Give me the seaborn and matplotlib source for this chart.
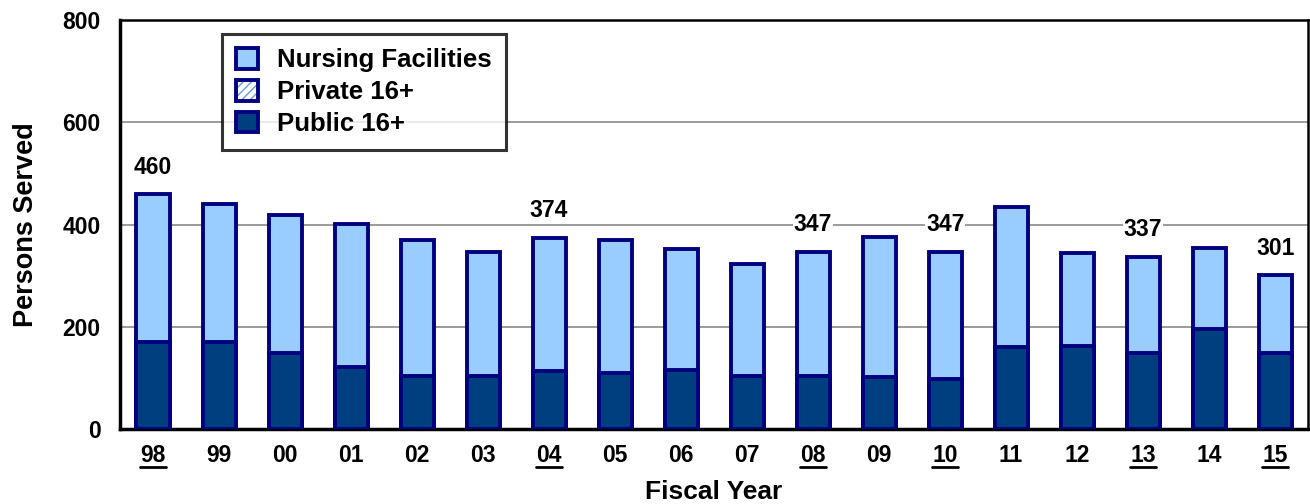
import pandas as pd
import numpy as np
import seaborn as sns
import matplotlib.pyplot as plt
from matplotlib.patches import Patch
from matplotlib.lines import Line2D

# fiscal years and persons served
years = ["98", "99", "00", "01", "02", "03", "04", "05", "06",
         "07", "08", "09", "10", "11", "12", "13", "14", "15"]
public = [170, 170, 148, 122, 104, 104, 114, 110, 115,
          104, 104, 102, 98, 161, 162, 149, 195, 149]
private = [0] * 18
nursing = [290, 270, 270, 279, 266, 243, 260, 260, 238,
           218, 243, 273, 249, 273, 183, 188, 160, 152]

# years that get a total label and an underlined tick
labelled = ["98", "04", "08", "10", "13", "15"]

df = pd.DataFrame({"year": years, "public": public, "private": private, "nursing": nursing})
df["total"] = df["public"] + df["private"] + df["nursing"]

sns.set_style("white")
plt.rcParams["font.family"] = ["Liberation Sans", "DejaVu Sans"]
plt.rcParams["font.weight"] = "bold"
plt.rcParams["text.color"] = "black"
plt.rcParams["axes.labelcolor"] = "black"
plt.rcParams["xtick.color"] = "black"
plt.rcParams["ytick.color"] = "black"

light = "#99CCFF"
dark = "#003F7F"
navy = "#000080"
edge_w = 2.8

fig = plt.figure(figsize=(13.1, 5.04), dpi=100)
ax = fig.add_axes([0.0916, 0.149, 0.907, 0.811])

# total bar first (nursing colour), then public on top of it
sns.barplot(data=df, x="year", y="total", order=years, color=light,
            edgecolor=navy, linewidth=edge_w, width=0.5, saturation=1, ax=ax, zorder=3)
sns.barplot(data=df, x="year", y="public", order=years, color=dark,
            edgecolor=navy, linewidth=edge_w, width=0.5, saturation=1, ax=ax, zorder=4)

ax.set_ylim(0, 800)
ax.set_yticks([0, 200, 400, 600, 800])
ax.yaxis.grid(True, color="#808080", linewidth=1.1, zorder=0)
ax.set_axisbelow(True)
ax.tick_params(axis="both", length=0, labelsize=16.5, colors="black")
ax.tick_params(axis="x", pad=11)
ax.tick_params(axis="y", pad=14)
for lab in ax.get_xticklabels() + ax.get_yticklabels():
    lab.set_fontweight("bold")

for side in ["top", "right"]:
    ax.spines[side].set_linewidth(1.8)
    ax.spines[side].set_color("black")
for side in ["left", "bottom"]:
    ax.spines[side].set_linewidth(2.5)
    ax.spines[side].set_color("black")

ax.set_xlabel("Fiscal Year", fontsize=19, fontweight="bold", labelpad=9)
ax.set_ylabel("Persons Served", fontsize=19.5, fontweight="bold", labelpad=17)

# total labels
for i, yr in enumerate(years):
    if yr in labelled:
        tot = df.loc[i, "total"]
        ax.text(i, tot + 30, f"{tot}", ha="center", va="bottom", fontsize=16.5,
                fontweight="bold", zorder=5,
                bbox=dict(facecolor="white", edgecolor="none", pad=0.5))

# legend
handles = [
    Patch(facecolor=light, edgecolor=navy, linewidth=edge_w),
    (Patch(facecolor="white", edgecolor="#6A9BD8", hatch="////", linewidth=0),
     Patch(facecolor="none", edgecolor=navy, linewidth=edge_w)),
    Patch(facecolor=dark, edgecolor=navy, linewidth=edge_w),
]
leg = ax.legend(handles, ["Nursing Facilities", "Private 16+", "Public 16+"],
                loc="upper left", bbox_to_anchor=(0.086, 0.966), borderaxespad=0,
                fontsize=18.5, frameon=True, fancybox=False, handlelength=0.85,
                handleheight=0.85, handletextpad=0.75, labelspacing=0.3,
                borderpad=0.55)
leg.get_frame().set_edgecolor("black")
leg.get_frame().set_linewidth(2.2)
leg.set_zorder(6)
for t in leg.get_texts():
    t.set_fontweight("bold")
    t.set_color("black")

# underline selected tick labels
fig.canvas.draw()
inv = fig.transFigure.inverted()
for lab in ax.get_xticklabels():
    if lab.get_text() in labelled:
        bb = lab.get_window_extent()
        (x0, y0), (x1, y1) = inv.transform([(bb.x0, bb.y0), (bb.x1, bb.y1)])
        fig.add_artist(Line2D([x0, x1], [y0 + 0.001, y0 + 0.001],
                              transform=fig.transFigure, color="black", linewidth=2.0))

fig.savefig("out.png", dpi=100)
